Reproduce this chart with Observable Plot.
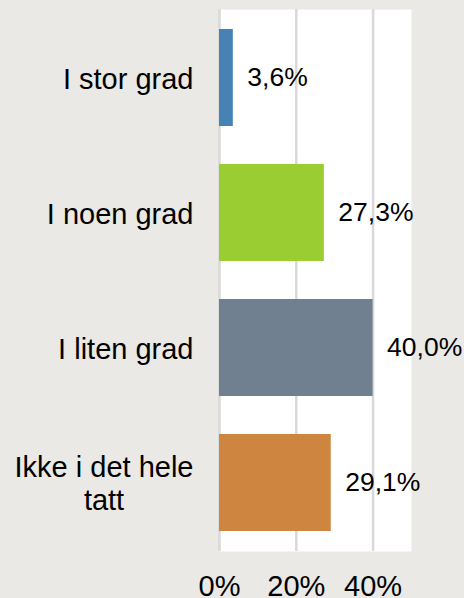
<!DOCTYPE html>
<html>
<head>
<meta charset="utf-8">
<script src="https://cdn.jsdelivr.net/npm/d3@7"></script>
<script src="https://cdn.jsdelivr.net/npm/@observablehq/plot@0.6"></script>
<style>
  html, body { margin: 0; padding: 0; background: #EAE9E5; }
  #chart { width: 464px; height: 598px; overflow: hidden; }
</style>
</head>
<body>
<div id="chart"></div>
<script>
const categories = ["I stor grad", "I noen grad", "I liten grad", "Ikke i det hele\ntatt"];
const values = [0.036, 0.273, 0.400, 0.291];
const colors = ["steelblue", "yellowgreen", "slategray", "peru"];
const tickValues = [0, 0.2, 0.4];

const data = categories.map((c, i) => ({cat: c, value: values[i], color: colors[i]}));
const pct = v => (v * 100).toFixed(1).replace(".", ",") + "%";

const chart = Plot.plot({
  width: 464,
  height: 598,
  marginLeft: 219,
  marginRight: 53,
  marginTop: 9,
  marginBottom: 47,
  style: {background: "#EAE9E5", fontFamily: "'Liberation Sans', Arial, sans-serif", color: "#000"},
  x: {domain: [0, 0.5], axis: null},
  y: {domain: categories, paddingInner: 0.28, paddingOuter: 0.14, axis: null},
  color: {type: "identity"},
  marks: [
    Plot.frame({fill: "white", stroke: null}),
    Plot.ruleX(tickValues, {stroke: "#D9D9D9", strokeWidth: 2.5}),
    Plot.barX(data, {x: "value", y: "cat", fill: "color"}),
    Plot.text(data, {x: "value", y: "cat", text: d => pct(d.value), dx: 14, textAnchor: "start", fontSize: 26.5, fill: "#000"}),
    Plot.axisY({tickSize: 0, tickPadding: 26, fontSize: 29, lineHeight: 1.15, fill: "#000", label: null}),
    Plot.axisX({ticks: tickValues, tickSize: 0, tickPadding: 24, fontSize: 29, fill: "#000", label: null, tickFormat: d => Math.round(d * 100) + "%"})
  ]
});
document.getElementById("chart").appendChild(chart);

// center multi-line category labels within their right-aligned block
d3.select(chart).selectAll("text").each(function() {
  const tspans = this.querySelectorAll("tspan");
  if (tspans.length > 1) {
    const w = this.getBBox().width;
    this.setAttribute("text-anchor", "middle");
    this.style.textAnchor = "middle";
    tspans.forEach(t => t.setAttribute("x", -w / 2));
  }
});
</script>
</body>
</html>
